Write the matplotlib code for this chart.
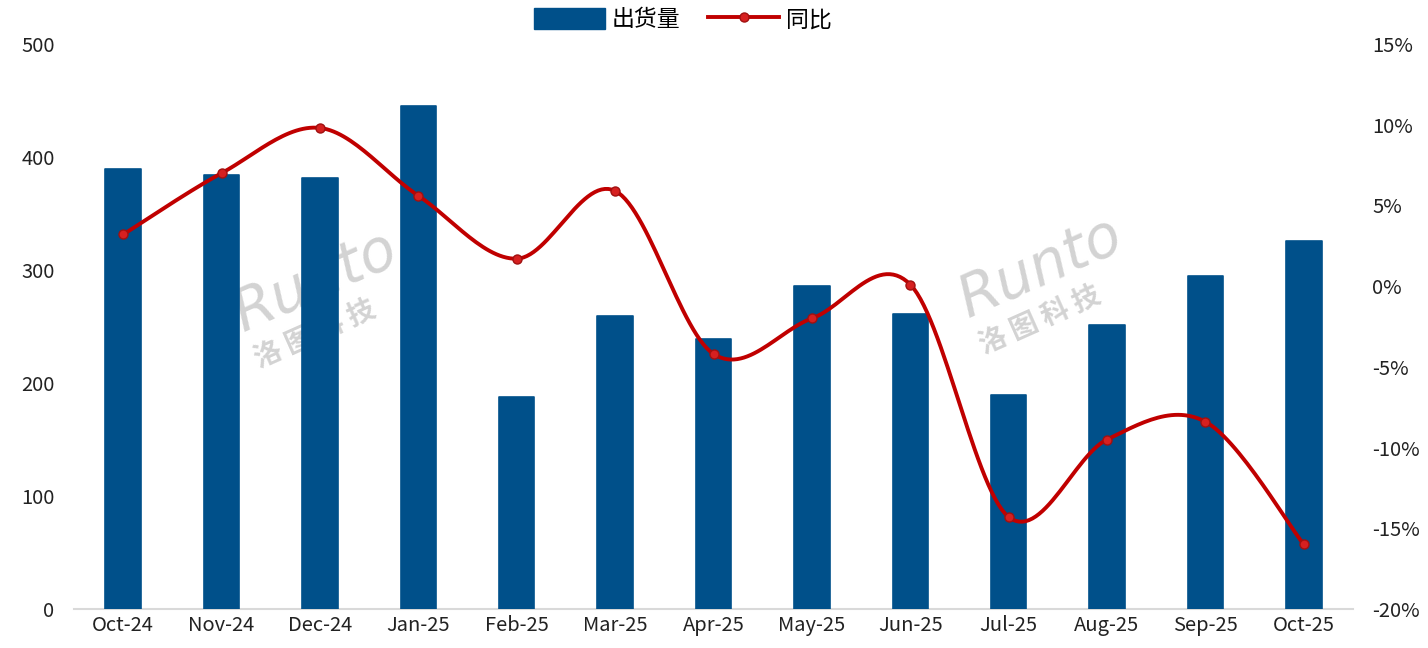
import numpy as np
import matplotlib
matplotlib.use("Agg")
import matplotlib.pyplot as plt
from matplotlib.patches import Patch
from matplotlib.lines import Line2D

plt.rcParams['font.family'] = ['Noto Sans CJK SC', 'DejaVu Sans']
plt.rcParams['font.weight'] = 'light'

months = ["Oct-24", "Nov-24", "Dec-24", "Jan-25", "Feb-25", "Mar-25", "Apr-25",
          "May-25", "Jun-25", "Jul-25", "Aug-25", "Sep-25", "Oct-25"]
shipments = [389, 384, 381, 445, 188, 259, 239, 286, 261, 189, 251, 295, 326]
yoy = [3.2, 7.0, 9.8, 5.6, 1.7, 5.9, -4.2, -2.0, 0.1, -14.3, -9.5, -8.4, -16.0]

bar_color = "#00508A"
line_color = "#C00000"

fig = plt.figure(figsize=(14.28, 6.48), dpi=100)
ax = fig.add_axes([74/1428, 1-609/648, (1353-74)/1428, (609-44)/648])
ax2 = ax.twinx()

x = np.arange(len(months))
ax.bar(x, shipments, width=0.36, color=bar_color, edgecolor=bar_color,
       linewidth=1.2, joinstyle='round', zorder=3)
ax.set_xlim(-0.5, len(months) - 0.5)
ax.set_ylim(0, 500)
ax.set_yticks(range(0, 501, 100))
ax.set_xticks(x)
ax.set_xticklabels(months)

# smooth line (Catmull-Rom like Excel)
def smooth(xs, ys, n=30):
    xs = np.asarray(xs, float); ys = np.asarray(ys, float)
    P = np.column_stack([xs, ys])
    P = np.vstack([P[0], P, P[-1]])
    out = []
    for i in range(1, len(P) - 2):
        p0, p1, p2, p3 = P[i-1], P[i], P[i+1], P[i+2]
        c1 = p1 + (p2 - p0) / 6
        c2 = p2 - (p3 - p1) / 6
        t = np.linspace(0, 1, n)[:, None]
        seg = ((1-t)**3)*p1 + 3*((1-t)**2)*t*c1 + 3*(1-t)*t**2*c2 + t**3*p2
        out.append(seg if i == 1 else seg[1:])
    S = np.vstack(out)
    return S[:, 0], S[:, 1]

sx, sy = smooth(x, yoy)
ax2.plot(sx, sy, color=line_color, lw=2.8, zorder=4, solid_capstyle='round')
ax2.plot(x, yoy, 'o', ms=6.5, mfc="#D62020", mec="#A01010", mew=1.0, zorder=5)
ax2.set_ylim(-20, 15)
ax2.set_yticks(range(-20, 16, 5))
ax2.set_yticklabels([f"{v}%" for v in range(-20, 16, 5)])

for a in (ax, ax2):
    for s in a.spines.values():
        s.set_visible(False)
    a.tick_params(length=0, labelsize=14.5, colors="#222222")
ax.spines['bottom'].set_visible(True)
ax.spines['bottom'].set_color("#D9D9D9")
ax.spines['bottom'].set_linewidth(1.5)
ax.tick_params(axis='y', pad=14)
ax.tick_params(axis='x', pad=4)
ax2.tick_params(axis='y', pad=14)
ax.set_zorder(1)
ax2.set_zorder(2)
ax.patch.set_visible(False)

# watermark
wm = dict(color="#D3D3D3", rotation=24, ha='center', va='center', zorder=0,
          transform=fig.transFigure)
for cx, cy in [(315, 282), (1040, 268)]:
    fig.text(cx/1428, 1-cy/648, "Runto", fontsize=42, style='italic',
             family=['DejaVu Sans'], **wm)
    fig.text((cx)/1428, 1-(cy+52)/648, "洛 图 科 技", fontsize=20, fontweight='bold',
             family=['Noto Sans CJK SC'], **wm)

handles = [Patch(facecolor=bar_color, edgecolor=bar_color),
           Line2D([0], [0], color=line_color, lw=2.8, marker='o', ms=6.5,
                  mfc="#D62020", mec="#A01010")]
fig.legend(handles, ["出货量", "同比"], loc='upper center',
           bbox_to_anchor=(683/1428, 1.019), ncol=2, frameon=False,
           handlelength=3.1, handleheight=1.0, columnspacing=1.2,
           handletextpad=0.3, prop={'family': ['Noto Sans CJK SC'], 'size': 16.5,
                                    'weight': 'light'})

fig.savefig("out.png", dpi=100)
